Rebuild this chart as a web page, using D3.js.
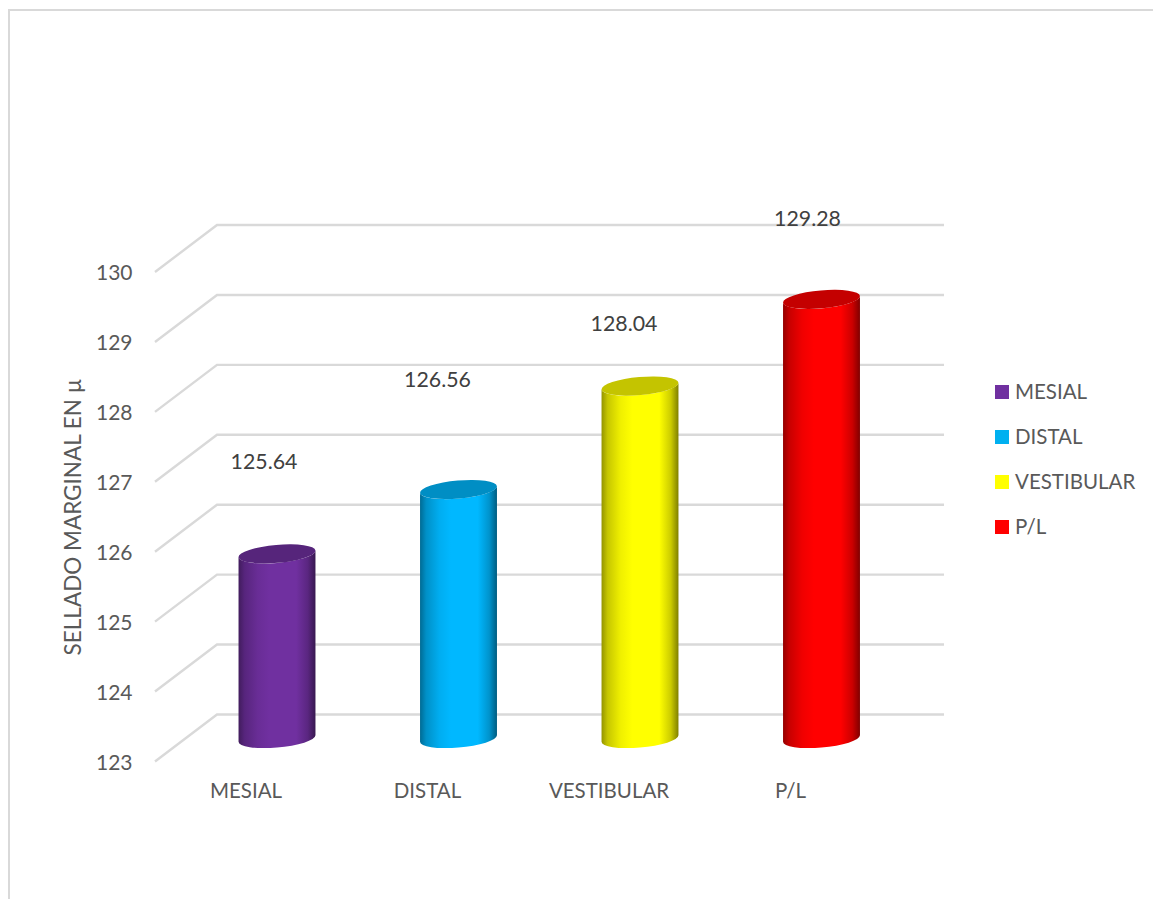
<!DOCTYPE html>
<html>
<head>
<meta charset="utf-8">
<script src="https://cdn.jsdelivr.net/npm/d3@7/dist/d3.min.js"></script>
<style>
  html, body { margin: 0; padding: 0; background: #fff; }
  svg { display: block; }
  text { font-family: Lato, "Open Sans", sans-serif; }
</style>
</head>
<body>
<svg id="chart" width="1153" height="899"></svg>
<script>
// Marginal seal by tooth surface
const categories = ["MESIAL", "DISTAL", "VESTIBULAR", "P/L"];
const values = [125.64, 126.56, 128.04, 129.28];
const yTicks = [123, 124, 125, 126, 127, 128, 129, 130];
const baseColors = ["#7030A0", "#00B8FF", "#FFFF00", "#FF0000"];
const legendColors = ["#7030A0", "#00B0F0", "#FFFF00", "#FF0000"];
const axisTitle = "SELLADO MARGINAL EN µ";

// Hand-placed data label shifts, measured from the default spot above each cylinder
const labelShiftX = [-13, -21, -16, -14];
const labelShiftY = [-92, -110, -63, -81];

const svg = d3.select("#chart");
const domain = [123, 130];

// The plot is a sheared box: a back wall, and a front edge where the tick labels sit
const yBack = d3.scaleLinear().domain(domain).range([714.5, 225]);
const yFront = d3.scaleLinear().domain(domain).range([761.5, 272]);
const yBar = d3.scaleLinear().domain(domain).range([738.5, 249]);
const x = d3.scaleBand().domain(categories).range([186.25, 912.25]);
const frontX = 155, backX = 217, wallEnd = 944;

// Outer frame: only the top and left edges fall inside the page
svg.append("path")
  .attr("d", "M1153,10H9V899")
  .attr("fill", "none").attr("stroke", "#d9d9d9").attr("stroke-width", 2);

// Gridlines: floor-side diagonal followed by the run along the back wall
const grid = svg.append("g").attr("fill", "none").attr("stroke", "#d9d9d9").attr("stroke-width", 2.4);
grid.selectAll("path").data(yTicks).join("path")
  .attr("d", d => `M${frontX},${yFront(d)}L${backX},${yBack(d)}H${wallEnd}`);

// Value axis along the front edge
const yAxis = svg.append("g")
  .attr("transform", `translate(${frontX - 22.5},1)`)
  .call(d3.axisLeft(yFront).tickValues(yTicks).tickSize(0).tickPadding(0).tickFormat(d3.format("d")));
yAxis.select(".domain").remove();
yAxis.selectAll("text").attr("font-size", 21).attr("fill", "#595959")
  .style("font-family", "Lato, 'Open Sans', sans-serif");

// Category axis, shifted toward the front edge of the box
const xAxis = svg.append("g")
  .attr("transform", "translate(-31,783.5)")
  .call(d3.axisBottom(x).tickSize(0).tickPadding(0));
xAxis.select(".domain").remove();
xAxis.selectAll("text").attr("font-size", 20.5).attr("fill", "#595959")
  .style("font-family", "Lato, 'Open Sans', sans-serif");

// Axis title
svg.append("text")
  .attr("transform", "translate(81,517) rotate(-90)")
  .attr("text-anchor", "middle")
  .attr("font-size", 22.5).attr("fill", "#595959")
  .text(axisTitle);

// Shading of each cylinder wall, dark at the rims and full colour through the middle
const defs = svg.append("defs");
baseColors.forEach((c, i) => {
  const g = defs.append("linearGradient").attr("id", `wall${i}`);
  const shade = k => d3.interpolateRgb("#000", c)(k);
  [[0, 0.58], [0.08, 0.78], [0.25, 0.94], [0.4, 1], [0.75, 1], [0.9, 0.8], [1, 0.5]]
    .forEach(([o, k]) => g.append("stop").attr("offset", o).attr("stop-color", shade(k)));
});

// Cylinders: tilted ellipses joined by straight walls
const rx = 38.6, ry = 9, tilt = -5;
const rad = tilt * Math.PI / 180;
const halfW = Math.sqrt(rx * rx * Math.cos(rad) ** 2 + ry * ry * Math.sin(rad) ** 2);
const lift = (rx * rx - ry * ry) * Math.abs(Math.sin(rad) * Math.cos(rad)) / halfW;

const bars = svg.append("g").selectAll("g").data(categories).join("g");
bars.append("path")
  .attr("fill", (d, i) => `url(#wall${i})`)
  .attr("d", (d, i) => {
    const cx = x(d) + x.bandwidth() / 2, top = yBar(values[i]), base = yBar(domain[0]);
    return `M${cx - halfW},${top + lift}L${cx - halfW},${base + lift}` +
      `A${rx},${ry} ${tilt} 0 0 ${cx + halfW},${base - lift}` +
      `L${cx + halfW},${top - lift}` +
      `A${rx},${ry} ${tilt} 0 1 ${cx - halfW},${top + lift}Z`;
  });
bars.append("ellipse")
  .attr("rx", rx).attr("ry", ry)
  .attr("fill", (d, i) => d3.interpolateRgb("#000", baseColors[i])(0.77))
  .attr("transform", (d, i) => `translate(${x(d) + x.bandwidth() / 2},${yBar(values[i])}) rotate(${tilt})`);

// Data labels
svg.append("g").selectAll("text").data(values).join("text")
  .attr("x", (d, i) => x(categories[i]) + x.bandwidth() / 2 + labelShiftX[i])
  .attr("y", (d, i) => yBar(d) + labelShiftY[i])
  .attr("dy", "0.35em")
  .attr("text-anchor", "middle")
  .attr("font-size", 21.3).attr("fill", "#404040")
  .text(d => d3.format(".2f")(d));

// Legend
const legendY = d3.scalePoint().domain(categories).range([392, 527]);
const legend = svg.append("g").selectAll("g").data(categories).join("g")
  .attr("transform", d => `translate(995,${legendY(d)})`);
legend.append("rect").attr("y", -7).attr("width", 14).attr("height", 14)
  .attr("fill", (d, i) => legendColors[i]);
legend.append("text").attr("x", 20).attr("dy", "0.35em")
  .attr("font-size", 20.5).attr("fill", "#595959").text(d => d);
</script>
</body>
</html>
